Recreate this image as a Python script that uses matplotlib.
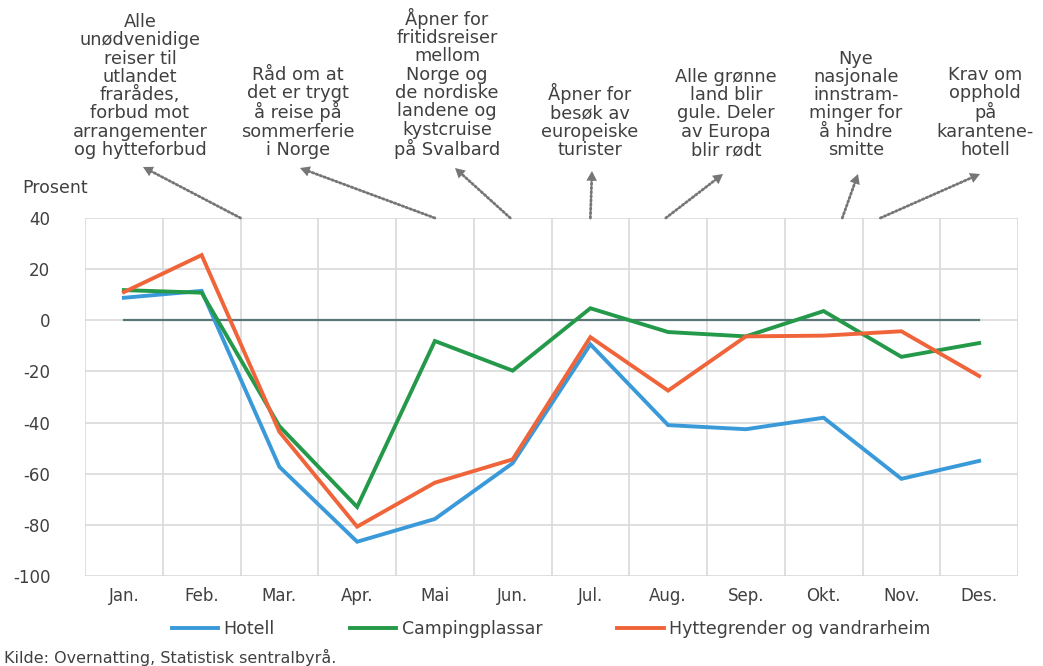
import matplotlib
matplotlib.use("Agg")
import matplotlib.pyplot as plt

plt.rcParams['font.family'] = ['DejaVu Sans']
plt.rcParams['axes.unicode_minus'] = False

# ---- data ----
months = ['Jan.', 'Feb.', 'Mar.', 'Apr.', 'Mai', 'Jun.', 'Jul.', 'Aug.', 'Sep.', 'Okt.', 'Nov.', 'Des.']
hotell = [8.8, 11.5, -57.3, -86.6, -77.7, -55.9, -9.4, -41.0, -42.6, -38.1, -62.0, -55.0]
camping = [11.8, 10.8, -41.4, -73.0, -8.1, -19.7, 4.7, -4.6, -6.3, 3.6, -14.3, -8.9]
hytte = [11.0, 25.5, -43.6, -80.7, -63.5, -54.4, -6.6, -27.5, -6.3, -6.0, -4.3, -21.8]
zero_line = [0] * 12
series_names = ['Hotell', 'Campingplassar', 'Hyttegrender og vandrarheim']
yticks = [40, 20, 0, -20, -40, -60, -80, -100]

annotations = [
    "Alle\nunødvenidige\nreiser til\nutlandet\nfrarådes,\nforbud mot\narrangementer\nog hytteforbud",
    "Råd om at\ndet er trygt\nå reise på\nsommerferie\ni Norge",
    "Åpner for\nfritidsreiser\nmellom\nNorge og\nde nordiske\nlandene og\nkystcruise\npå Svalbard",
    "Åpner for\nbesøk av\neuropeiske\nturister",
    "Alle grønne\nland blir\ngule. Deler\nav Europa\nblir rødt",
    "Nye\nnasjonale\ninnstram-\nminger for\nå hindre\nsmitte",
    "Krav om\nopphold\npå\nkarantene-\nhotell",
]

W, H = 1043, 666
fig = plt.figure(figsize=(W / 100, H / 100), dpi=100)

def fx(x):
    return x / W

def fy(y):
    return 1 - y / H

ax = fig.add_axes([fx(85), fy(576), fx(1018) - fx(85), fy(218) - fy(576)])

x = list(range(len(months)))
ax.plot(x, zero_line, color='#5b7579', lw=1.6, zorder=2)
c_blue, c_green, c_orange = '#3a9ad9', '#24994a', '#f0643a'
ax.plot(x, hotell, color=c_blue, lw=2.8, label=series_names[0], zorder=3, solid_joinstyle='miter')
ax.plot(x, camping, color=c_green, lw=2.8, label=series_names[1], zorder=3, solid_joinstyle='miter')
ax.plot(x, hytte, color=c_orange, lw=2.8, label=series_names[2], zorder=3, solid_joinstyle='miter')

ax.set_xlim(-0.5, len(months) - 0.5)
ax.set_ylim(-100, 40)
ax.set_yticks(yticks)
ax.set_yticklabels([str(v) for v in yticks])
ax.set_xticks(x)
ax.set_xticklabels(months)
ax.set_xticks([i + 0.5 for i in range(-1, len(months))], minor=True)
ax.grid(False)
ax.yaxis.grid(True, color='#d9d9d9', lw=1.2, zorder=0)
ax.xaxis.grid(True, which='minor', color='#d9d9d9', lw=1.2, zorder=0)
for s in ax.spines.values():
    s.set_visible(False)
ax.tick_params(axis='both', which='both', length=0)
ax.tick_params(axis='y', pad=25, labelsize=12, labelcolor='#404040')
ax.tick_params(axis='x', pad=8, labelsize=12, labelcolor='#404040')

fig.text(fx(22), fy(188), 'Prosent', fontsize=12.5, color='#404040', ha='left', va='center')

# annotation texts
text_cx = [140, 298, 447, 590, 726, 856, 985]
for t, cx in zip(annotations, text_cx):
    fig.text(fx(cx), fy(159), t, ha='center', va='bottom', fontsize=12.8,
             color='#404040', linespacing=1.02, multialignment='center')

# dotted arrows: tail on plot top (data x), head below text (figure px)
tails_x = [1.5, 4.0, 4.97, 6.0, 6.97, 9.24, 9.73]
heads = [(143, 167), (300, 168), (455, 168), (592, 171), (723, 174), (858, 174), (980, 174)]
for tx, (hx, hy) in zip(tails_x, heads):
    # dotted shaft
    ax.annotate('', xy=(fx(hx), fy(hy)), xycoords='figure fraction',
                xytext=(tx, 40), textcoords='data',
                arrowprops=dict(arrowstyle='-', color='#767676', lw=2.0,
                                linestyle=(0, (0.6, 0.9)), shrinkA=0, shrinkB=5),
                annotation_clip=False)
    # solid head
    ax.annotate('', xy=(fx(hx), fy(hy)), xycoords='figure fraction',
                xytext=(tx, 40), textcoords='data',
                arrowprops=dict(arrowstyle='-|>,head_length=0.7,head_width=0.38',
                                color='#767676', lw=0.01, shrinkA=0, shrinkB=0),
                annotation_clip=False)

leg = ax.legend(loc='center', bbox_to_anchor=(fx(551), fy(629)),
                bbox_transform=fig.transFigure, ncol=3, frameon=False,
                fontsize=12.5, handlelength=2.7, handletextpad=0.3,
                columnspacing=4.3, labelcolor='#404040')

fig.text(fx(4), fy(657), 'Kilde: Overnatting, Statistisk sentralbyrå.', fontsize=11.5,
         color='#404040', ha='left', va='center')

fig.savefig('out.png', dpi=100)
